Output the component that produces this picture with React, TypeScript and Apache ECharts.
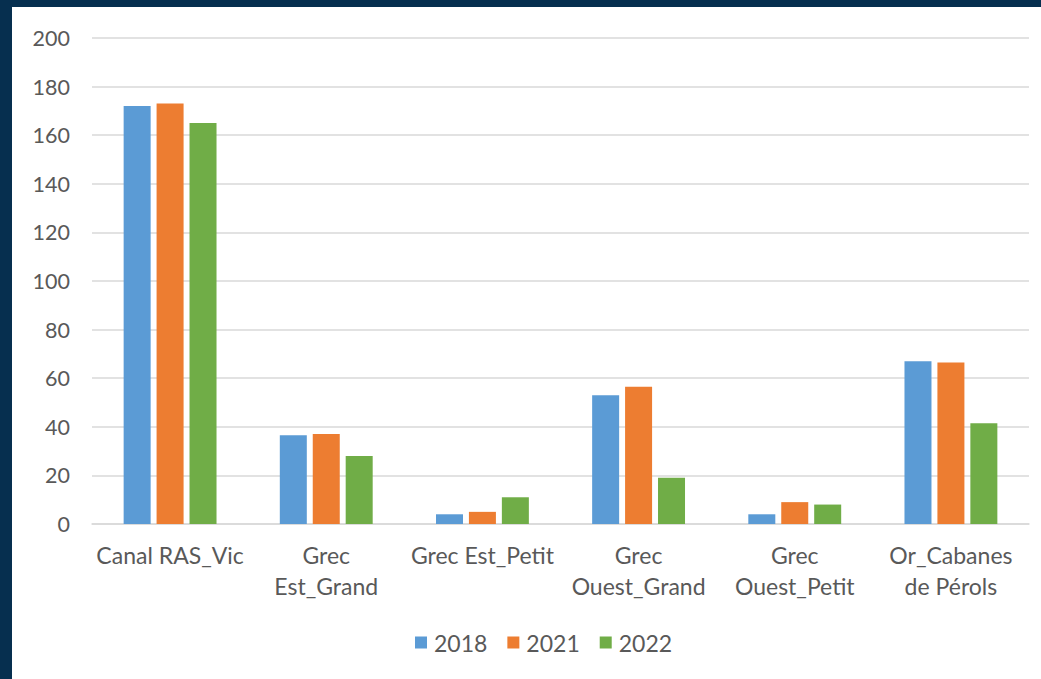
import React, { useEffect, useRef } from "react";
import * as echarts from "echarts";

const categories = [
  "Canal RAS_Vic",
  "Grec\nEst_Grand",
  "Grec Est_Petit",
  "Grec\nOuest_Grand",
  "Grec\nOuest_Petit",
  "Or_Cabanes\nde Pérols",
];
const values2018 = [172, 36.5, 4, 53, 4, 67];
const values2021 = [173, 37, 5, 56.5, 9, 66.5];
const values2022 = [165, 28, 11, 19, 8, 41.5];
const yTicks = { min: 0, max: 200, interval: 20 };

const FONT = "Lato, 'Noto Sans', sans-serif";
const TEXT = "#595959";

export default function App() {
  const ref = useRef<HTMLDivElement>(null);
  useEffect(() => {
    if (!ref.current) return;
    const chart = echarts.init(ref.current, undefined, { renderer: "svg" });
    const mk = (name: string, data: number[], color: string) => ({
      name,
      type: "bar",
      data,
      barWidth: 27,
      barGap: "22%",
      itemStyle: { color },
    });
    chart.setOption({
      animation: false,
      backgroundColor: "#062f4f",
      graphic: [
        {
          type: "rect",
          shape: { x: 12, y: 7, width: 1041 - 12, height: 679 - 7 },
          style: { fill: "#ffffff" },
          z: -10,
          silent: true,
        },
      ],
      textStyle: { fontFamily: FONT },
      grid: { left: 92, right: 12, top: 38, bottom: 155, containLabel: false },
      legend: {
        data: ["2018", "2021", "2022"],
        left: 410,
        top: 626,
        itemWidth: 12,
        itemHeight: 12,
        itemGap: 20,
        icon: "rect",
        textStyle: { color: TEXT, fontSize: 23, fontFamily: FONT, padding: [0, 0, 0, 2] },
      },
      xAxis: {
        type: "category",
        data: categories,
        axisLine: { lineStyle: { color: "#D9D9D9", width: 1.5 } },
        axisTick: { show: false },
        axisLabel: {
          color: TEXT,
          fontSize: 23,
          fontFamily: FONT,
          margin: 15,
          lineHeight: 31,
          interval: 0,
        },
      },
      yAxis: {
        type: "value",
        min: yTicks.min,
        max: yTicks.max,
        interval: yTicks.interval,
        axisLine: { show: false },
        axisTick: { show: false },
        splitLine: { lineStyle: { color: "#D9D9D9", width: 1.5 } },
        axisLabel: { color: TEXT, fontSize: 21.5, fontFamily: FONT, margin: 22 },
      },
      series: [
        mk("2018", values2018, "#5B9BD5"),
        mk("2021", values2021, "#ED7D31"),
        mk("2022", values2022, "#70AD47"),
      ],
    });
    return () => chart.dispose();
  }, []);
  return (
    <div
      ref={ref}
      style={{ position: "fixed", left: 0, top: 0, width: 1041, height: 679 }}
    />
  );
}
